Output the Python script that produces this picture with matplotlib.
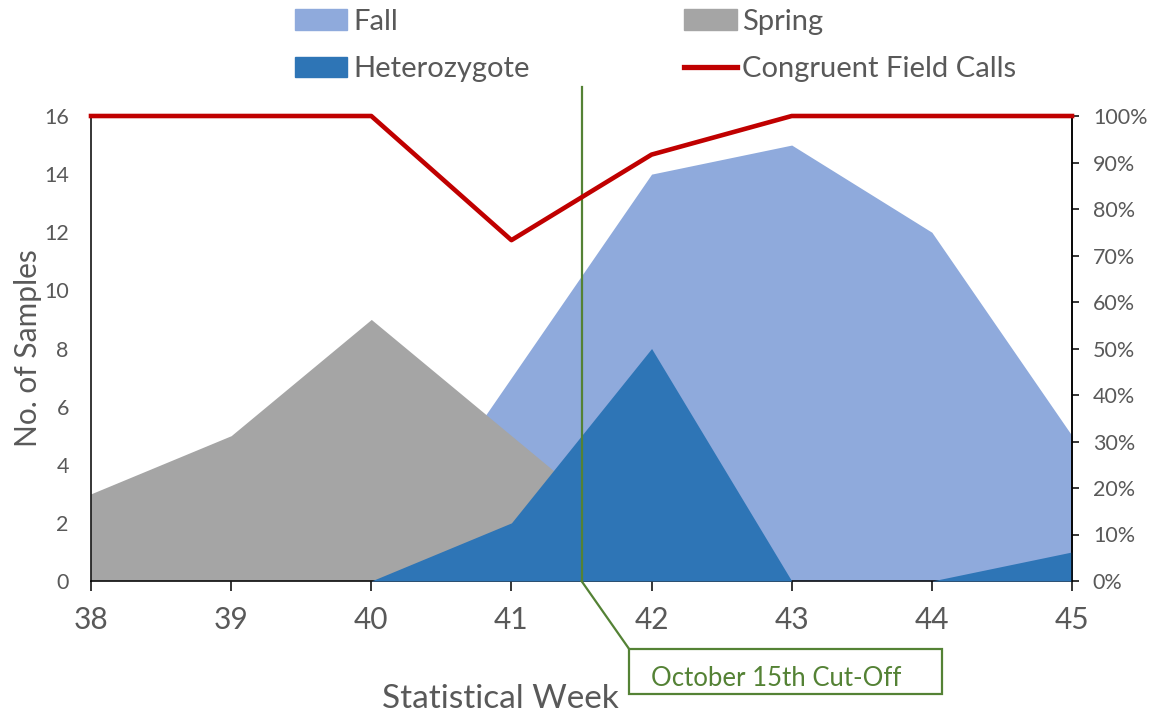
import matplotlib
matplotlib.use("Agg")
import matplotlib.pyplot as plt
from matplotlib.patches import Patch, Rectangle
from matplotlib.lines import Line2D
from matplotlib.ticker import PercentFormatter

weeks = [38, 39, 40, 41, 42, 43, 44, 45]
fall = [0, 0, 0, 7, 14, 15, 12, 5]
spring = [3, 5, 9, 5, 1, 0, 0, 0]
heterozygote = [0, 0, 0, 2, 8, 0, 0, 1]
congruent = [1.0, 1.0, 1.0, 0.733, 0.917, 1.0, 1.0, 1.0]
cutoff_week = 41.5
cutoff_label = "October 15th Cut-Off"

FONT = ["Lato", "DejaVu Sans"]
plt.rcParams["font.family"] = FONT
TXT = "#595959"
C_FALL = "#8FAADC"
C_SPRING = "#A5A5A5"
C_HET = "#2E75B6"
C_RED = "#C00000"
C_GREEN = "#548235"

W, H = 1152, 715
fig = plt.figure(figsize=(W / 100, H / 100), dpi=100)
ax = fig.add_axes([91 / W, 1 - 581 / H, (1072 - 91) / W, (581 - 116) / H])

ax.fill_between(weeks, fall, 0, color=C_FALL, linewidth=0, zorder=1)
ax.fill_between(weeks, spring, 0, color=C_SPRING, linewidth=0, zorder=2)
ax.fill_between(weeks, heterozygote, 0, color=C_HET, linewidth=0, zorder=3)

ax.set_xlim(38, 45)
ax.set_ylim(0, 16)
ax.set_xticks(weeks)
ax.set_yticks(range(0, 17, 2))
ax.tick_params(axis="x", length=7, width=1.1, direction="out", pad=11,
               labelsize=21.5, labelcolor=TXT)
ax.tick_params(axis="y", length=0, pad=16, labelsize=15.5, labelcolor=TXT)
ax.spines["top"].set_visible(False)
for s in ["left", "bottom", "right"]:
    ax.spines[s].set_linewidth(1.1)
    ax.spines[s].set_color("black")
ax.set_ylabel("No. of Samples", fontsize=21.5, color=TXT)
ax.yaxis.set_label_coords(-0.050, 0.5)

ax2 = ax.twinx()
ax2.plot(weeks, congruent, color=C_RED, linewidth=3.3, zorder=5,
         solid_joinstyle="round", clip_on=False)
ax2.set_ylim(0, 1.0)
ax2.set_yticks([i / 10 for i in range(11)])
ax2.yaxis.set_major_formatter(PercentFormatter(1.0, decimals=0))
ax2.tick_params(axis="y", length=5, width=1.1, direction="out", pad=10,
                labelsize=15.5, labelcolor=TXT)
ax2.spines["top"].set_visible(False)
ax2.spines["right"].set_linewidth(1.1)
ax2.spines["left"].set_visible(False)
ax2.spines["bottom"].set_visible(False)

# cut-off marker line and callout
ax.plot([cutoff_week, cutoff_week], [0, 17.0], color=C_GREEN, linewidth=1.6,
        clip_on=False, zorder=6)
ax.plot([cutoff_week, 41.84], [0, -2.34], color=C_GREEN, linewidth=1.6,
        clip_on=False, zorder=6)
box = Rectangle((629 / W, 1 - 694 / H), (942 - 629) / W, (694 - 649) / H,
                transform=fig.transFigure, fill=False, edgecolor=C_GREEN,
                linewidth=1.6)
fig.add_artist(box)
fig.text(776 / W, 1 - 678 / H, cutoff_label, color=C_GREEN,
         fontsize=18.5, ha="center", va="center")

fig.text(500 / W, 1 - 699 / H, "Statistical Week", fontsize=24,
         color=TXT, ha="center", va="center")

handles = [Patch(color=C_FALL), Patch(color=C_HET), Patch(color=C_SPRING),
           Line2D([], [], color=C_RED, linewidth=3.8)]
labels = ["Fall", "Heterozygote", "Spring", "Congruent Field Calls"]
leg = fig.legend(handles, labels, ncol=2, loc="upper left",
                 bbox_to_anchor=(286 / W, 1.0), frameon=False,
                 fontsize=21, handlelength=1.8, handleheight=0.7,
                 handletextpad=0.2, columnspacing=5.3, labelspacing=0.74,
                 borderaxespad=0.0, borderpad=0.3)
for t in leg.get_texts():
    t.set_color(TXT)

fig.savefig("out.png", dpi=100)
